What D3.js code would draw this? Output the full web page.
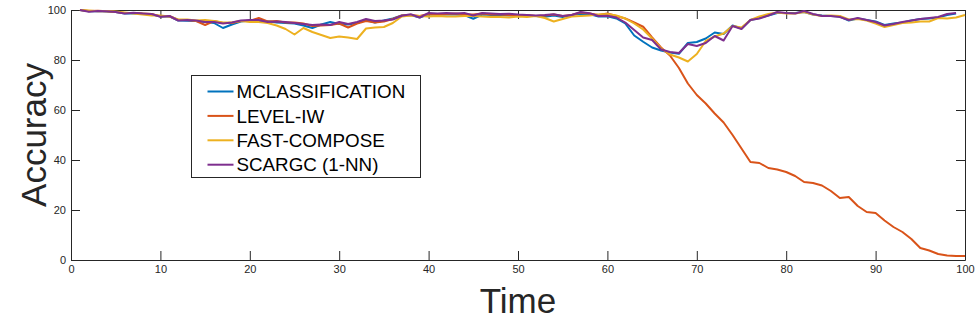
<!DOCTYPE html>
<html>
<head>
<meta charset="utf-8">
<script src="https://cdn.jsdelivr.net/npm/d3@7"></script>
<style>
  body { margin: 0; background: #fff; }
  text { font-family: "Liberation Sans", Arial, Helvetica, sans-serif; }
</style>
</head>
<body>
<script>
// time steps start at 1
var steps = d3.range(1, 101);

var mclassification = [100, 99.5, 99.6, 99.4, 99.2, 98.6, 98.7, 98.5, 98.3, 97.4,
  97.5, 95.8, 95.7, 95.6, 95.2, 94.8, 92.8, 94.2, 95.4, 95.8,
  95.6, 95.5, 95, 94.8, 94.6, 93.8, 92.8, 94.2, 95.2, 94.4,
  94.2, 94.8, 96, 95, 95.8, 96.6, 97.8, 98, 97, 98.3,
  98.2, 98.3, 98.2, 98, 96.5, 98.2, 98, 98, 97.8, 97.9,
  97.6, 97.6, 97.3, 97.8, 97.2, 98, 98.5, 98.4, 97.4, 97.5,
  96.6, 94.6, 89.8, 87.3, 85, 83.8, 83, 82.5, 86.8, 87.2,
  88.6, 91, 90.4, 93.8, 92.6, 96, 96.8, 97.8, 98.8, 98.8,
  98.8, 99.2, 98.2, 97.8, 97.6, 97.4, 95.8, 96.6, 96, 95.4,
  94, 94.6, 95, 95.8, 96.4, 96.6, 97, 98, 98.6];

var levelIW = [100, 99.6, 99.7, 99.5, 99.2, 98.8, 98.8, 98.6, 98.4, 97.5,
  97.6, 96, 96, 95.6, 94, 95.6, 94.8, 94.8, 95.6, 95.6,
  96.8, 95.4, 95.6, 95, 95, 94.6, 93.6, 93.8, 94, 94.6,
  93, 94.6, 95.6, 95, 95.4, 96.4, 97.8, 98, 97.6, 98.4,
  98.2, 98.4, 98.6, 98.2, 98.2, 98.6, 98.2, 98.2, 98, 98,
  98, 97.6, 97.8, 98.2, 97.6, 98, 99, 98.6, 98, 98.6,
  97.6, 96.6, 95, 93.3, 89, 85, 81.8, 76.8, 70.6, 66,
  62.6, 58.6, 55, 50, 44.6, 39.2, 38.8, 36.8, 36.2, 35.2,
  33.6, 31.2, 30.8, 29.8, 27.6, 24.8, 25.2, 21.6, 19.2, 18.8,
  15.8, 13.2, 11.2, 8.4, 4.8, 3.8, 2.4, 1.8, 1.6, 1.6];

var fastCompose = [100, 99.8, 99.5, 99.6, 99.4, 99, 98.6, 98.2, 97.8, 97.8,
  97.4, 96.2, 96.2, 95.8, 96, 95.6, 95, 95, 95.6, 95.2,
  95.2, 94.8, 93.8, 92.4, 90.2, 92.8, 91.2, 90, 88.8, 89.4,
  89, 88.4, 92.6, 93, 93.2, 94.8, 97.4, 97.8, 97.6, 97.4,
  97.6, 97.4, 97.4, 97.6, 97.6, 97.4, 97.2, 97.2, 97, 97.4,
  97.2, 97.6, 96.8, 95.4, 96.4, 97.4, 97.6, 97.8, 98.2, 98.4,
  97.8, 96.6, 94.6, 92.2, 88.6, 84.6, 82.2, 81, 79.4, 82.4,
  87.6, 89.4, 90.6, 93.6, 93, 96, 97.4, 98.4, 99, 98.6,
  98.6, 99.2, 98.2, 97.6, 97.8, 97.6, 96.2, 96.4, 95.8, 94.6,
  93.2, 94, 94.8, 95, 95.4, 95.4, 96.8, 96.6, 97, 98];

var scargc = [100, 99.3, 99.6, 99.5, 99.2, 98.6, 98.9, 98.6, 98.4, 97.3,
  97.6, 95.8, 96, 95.8, 95.2, 95.2, 94.6, 95, 95.8, 96,
  96, 95.2, 95.4, 95.2, 94.8, 94.4, 94, 94.2, 94, 95.2,
  94.4, 95.2, 96.4, 95.6, 95.8, 96.2, 97.7, 98.3, 97, 98.8,
  98.6, 98.8, 98.6, 98.8, 97.8, 98.8, 98.6, 98.4, 98.5, 98.2,
  98, 97.8, 98, 98.3, 97.6, 98, 99.2, 98.7, 97.6, 97.7,
  97, 95, 92, 89, 88, 84.2, 83.2, 82.8, 86.4, 85.6,
  86.8, 89.6, 87.8, 93.6, 92.4, 96, 96.6, 97.8, 99.2, 98.8,
  98.6, 99.6, 98.4, 97.6, 97.6, 97.2, 96, 96.8, 96, 95.2,
  93.8, 94.4, 95.2, 95.8, 96.4, 96.8, 97.2, 98.4, 98.8];

var seriesNames = ["MCLASSIFICATION", "LEVEL-IW", "FAST-COMPOSE", "SCARGC (1-NN)"];
var seriesValues = [mclassification, levelIW, fastCompose, scargc];
var colors = ["#0072BD", "#D95319", "#EDB120", "#7E2F8E"];

var xTicks = d3.range(0, 101, 10);
var yTicks = d3.range(0, 101, 20);

var width = 975,
    height = 325,
    margin = { left: 71, right: 10, top: 10, bottom: 65 };

var svg = d3.select("body").append("svg")
    .attr("width", width)
    .attr("height", height);

var x = d3.scaleLinear().domain([0, 100]).range([margin.left, width - margin.right]);
var y = d3.scaleLinear().domain([0, 100]).range([height - margin.bottom, margin.top]);

var axisColor = "#262626";

function styleAxis(g) {
  g.selectAll("path.domain").attr("stroke", axisColor);
  g.selectAll(".tick line").attr("stroke", axisColor);
  g.selectAll(".tick text")
    .attr("fill", axisColor)
    .style("font-size", "11px")
    .style("font-family", "'Liberation Sans Narrow', 'Liberation Sans', Arial, sans-serif");
}

svg.append("g")
    .attr("transform", "translate(0," + y(0) + ")")
    .call(d3.axisBottom(x).tickValues(xTicks).tickSizeInner(-9).tickSizeOuter(0).tickPadding(5))
    .call(styleAxis);

svg.append("g")
    .attr("transform", "translate(0," + y(100) + ")")
    .call(d3.axisTop(x).tickValues(xTicks).tickSizeInner(-9).tickSizeOuter(0).tickFormat(""))
    .call(styleAxis);

svg.append("g")
    .attr("transform", "translate(" + x(0) + ",0)")
    .call(d3.axisLeft(y).tickValues(yTicks).tickSizeInner(-9).tickSizeOuter(0).tickPadding(5))
    .call(styleAxis);

svg.append("g")
    .attr("transform", "translate(" + x(100) + ",0)")
    .call(d3.axisRight(y).tickValues(yTicks).tickSizeInner(-9).tickSizeOuter(0).tickFormat(""))
    .call(styleAxis);

var line = d3.line()
    .x(function(d, i) { return x(steps[i]); })
    .y(function(d) { return y(d); });

svg.append("g").selectAll("path")
    .data(seriesValues)
    .enter().append("path")
    .attr("d", line)
    .attr("fill", "none")
    .attr("stroke", function(d, i) { return colors[i]; })
    .attr("stroke-width", 2)
    .attr("stroke-linejoin", "round");

// axis titles
svg.append("text")
    .attr("transform", "translate(46," + (y(50)) + ") rotate(-90)")
    .attr("text-anchor", "middle")
    .attr("fill", axisColor)
    .style("font-size", "35px")
    .text("Accuracy");

svg.append("text")
    .attr("x", x(50))
    .attr("y", 313)
    .attr("text-anchor", "middle")
    .attr("fill", axisColor)
    .style("font-size", "35px")
    .text("Time");

// legend
var legend = svg.append("g").attr("transform", "translate(191.5,75.5)");

legend.append("rect")
    .attr("width", 229)
    .attr("height", 102)
    .attr("fill", "#fff")
    .attr("stroke", axisColor)
    .attr("stroke-width", 1);

var item = legend.selectAll("g.item")
    .data(seriesNames)
    .enter().append("g")
    .attr("class", "item")
    .attr("transform", function(d, i) { return "translate(0," + (16 + i * 24.4) + ")"; });

item.append("line")
    .attr("x1", 16)
    .attr("x2", 42)
    .attr("stroke", function(d, i) { return colors[i]; })
    .attr("stroke-width", 2);

item.append("text")
    .attr("x", 45)
    .attr("dy", "0.36em")
    .attr("fill", "#000")
    .style("font-size", "18.8px")
    .text(function(d) { return d; });
</script>
</body>
</html>
